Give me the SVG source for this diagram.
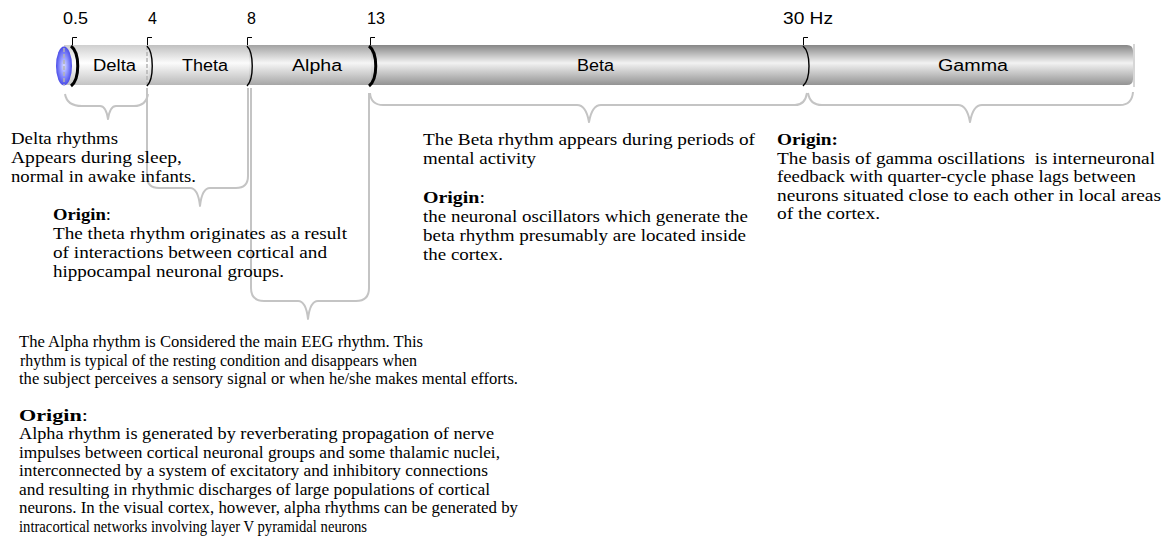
<svg xmlns="http://www.w3.org/2000/svg" width="1161" height="546" viewBox="0 0 1161 546">
  <defs>
    <linearGradient id="tubeLight" x1="0" y1="0" x2="0" y2="1">
      <stop offset="0" stop-color="#cfcfcf"/>
      <stop offset="0.45" stop-color="#ffffff"/>
      <stop offset="1" stop-color="#c4c4c4"/>
    </linearGradient>
    <linearGradient id="tubeSoft" x1="0" y1="0" x2="0" y2="1">
      <stop offset="0" stop-color="#c0c0c0"/>
      <stop offset="0.45" stop-color="#fbfbfb"/>
      <stop offset="1" stop-color="#b8b8b8"/>
    </linearGradient>
    <linearGradient id="tubeMid" x1="0" y1="0" x2="0" y2="1">
      <stop offset="0" stop-color="#a2a2a2"/>
      <stop offset="0.45" stop-color="#f6f6f6"/>
      <stop offset="1" stop-color="#a6a6a6"/>
    </linearGradient>
    <linearGradient id="tubeDark" x1="0" y1="0" x2="0" y2="1">
      <stop offset="0" stop-color="#868686"/>
      <stop offset="0.45" stop-color="#f2f2f2"/>
      <stop offset="1" stop-color="#939393"/>
    </linearGradient>
    <radialGradient id="capBlue" cx="0.5" cy="0.5" r="0.5">
      <stop offset="0" stop-color="#dadeff"/>
      <stop offset="0.5" stop-color="#9096ff"/>
      <stop offset="1" stop-color="#4a4ce8"/>
    </radialGradient>
    <style>
      .scale { font-family: "Liberation Sans", Arial, sans-serif; font-size: 16px; fill: #000; }
      .seg { font-family: "Liberation Sans", Arial, sans-serif; font-size: 16px; fill: #000; }
      .note { font-family: "Liberation Serif", "Times New Roman", serif; font-size: 17.5px; fill: #000; }
      .note-sm { font-family: "Liberation Serif", "Times New Roman", serif; font-size: 17px; fill: #000; }
      .b { font-weight: bold; }
      .rim { fill: none; stroke: #000; stroke-width: 1.4; }
      .rim-thick { fill: none; stroke: #000; stroke-width: 3; }
      .tick { fill: none; stroke: #000; stroke-width: 1; }
      .seam { stroke: #b4b4b4; stroke-width: 1.5; stroke-dasharray: 4 2; }
      .brace { fill: none; stroke: #c4c4c4; stroke-width: 2; stroke-linejoin: round; }
    </style>
  </defs>

  <rect width="1161" height="546" fill="#ffffff"/>

  <!-- frequency scale -->
  <g id="scale">
    <text class="scale" x="63" y="24" textLength="25" lengthAdjust="spacingAndGlyphs">0.5</text>
    <text class="scale" x="148" y="24">4</text>
    <text class="scale" x="247" y="24">8</text>
    <text class="scale" x="367" y="24" textLength="18" lengthAdjust="spacingAndGlyphs">13</text>
    <text class="scale" x="783" y="24" textLength="50" lengthAdjust="spacingAndGlyphs">30 Hz</text>
    <path class="tick" d="M72.5,46 V37.5 H77"/>
    <path class="tick" d="M147.5,46 V37.5 H152"/>
    <path class="tick" d="M247.5,46 V37.5 H252"/>
    <path class="tick" d="M370.5,46 V37.5 H375"/>
    <path class="tick" d="M803.5,46 V37.5 H808"/>
  </g>

  <!-- band segments of the tube -->
  <g id="band-gamma">
    <path d="M805,45 H1127 Q1133,45 1133,51 V79 Q1133,85 1127,85 H805 Z" fill="url(#tubeDark)"/>
    <line x1="1134" y1="44" x2="1134" y2="87" stroke="#c8c8c8" stroke-width="1.5"/>
    <text class="seg" x="938" y="71" textLength="70" lengthAdjust="spacingAndGlyphs">Gamma</text>
  </g>
  <g id="band-beta">
    <rect x="370" y="45" width="436" height="40" fill="url(#tubeDark)"/>
    <text class="seg" x="577" y="71" textLength="37" lengthAdjust="spacingAndGlyphs">Beta</text>
  </g>
  <g id="band-alpha">
    <rect x="248" y="45" width="123" height="40" fill="url(#tubeMid)"/>
    <text class="seg" x="292" y="71" textLength="50" lengthAdjust="spacingAndGlyphs">Alpha</text>
  </g>
  <g id="band-theta">
    <rect x="148" y="45" width="101" height="40" fill="url(#tubeSoft)"/>
    <text class="seg" x="182" y="71" textLength="46" lengthAdjust="spacingAndGlyphs">Theta</text>
  </g>
  <g id="band-delta">
    <rect x="64" y="45" width="85" height="40" fill="url(#tubeLight)"/>
    <line class="seam" x1="147" y1="46" x2="147" y2="86"/>
    <ellipse cx="64" cy="66" rx="8" ry="19.5" fill="url(#capBlue)"/>
    <line class="seam" x1="64" y1="48" x2="64" y2="85"/>
    <text class="seg" x="93" y="71" textLength="43" lengthAdjust="spacingAndGlyphs">Delta</text>
  </g>

  <!-- band boundaries -->
  <g id="boundaries">
    <path class="rim-thick" d="M71,46 C80,53 80,79 71,86"/>
    <path class="rim" d="M147,46 C154,53 154,79 147,86"/>
    <path class="rim" d="M247,46 C254,53 254,79 247,86"/>
    <path class="rim-thick" d="M369,46 C378,53 378,79 369,86"/>
    <path class="rim" d="M803,46 C811,53 811,79 803,86"/>
  </g>

  <!-- braces linking each band to its note -->
  <g id="connectors">
    <path class="brace" d="M65,94 Q67,106 82,106 H100 Q106,106 108,119 Q110,106 116,106 H134 Q146,106 148,94"/>
    <path class="brace" d="M147,88 V176 Q147,188 159,188 H190 Q198,188 200,206 Q202,188 210,188 H236 Q248,188 248,176 V88"/>
    <path class="brace" d="M251,88 V288 Q251,301 264,301 H298 Q306,301 308,319 Q310,301 318,301 H356 Q369,301 369,288 V93"/>
    <path class="brace" d="M370,93 Q371,105 383,105 H577 Q586,105 589,122 Q592,105 601,105 H795 Q805,105 807,93"/>
    <path class="brace" d="M808,93 Q810,105 822,105 H958 Q967,105 970,122 Q973,105 982,105 H1120 Q1132,105 1133,92"/>
  </g>

  <!-- notes -->
  <g id="note-delta">
    <text class="note" x="11" y="144" textLength="107" lengthAdjust="spacingAndGlyphs">Delta rhythms</text>
    <text class="note" x="11" y="163" textLength="171" lengthAdjust="spacingAndGlyphs">Appears during sleep,</text>
    <text class="note" x="11" y="182" textLength="185" lengthAdjust="spacingAndGlyphs">normal in awake infants.</text>
  </g>

  <g id="note-theta">
    <text class="note" x="53" y="220" textLength="58" lengthAdjust="spacingAndGlyphs"><tspan class="b">Origin</tspan>:</text>
    <text class="note" x="53" y="239" textLength="294" lengthAdjust="spacingAndGlyphs">The theta rhythm originates as a result</text>
    <text class="note" x="53" y="258" textLength="274" lengthAdjust="spacingAndGlyphs">of interactions between cortical and</text>
    <text class="note" x="53" y="277" textLength="231" lengthAdjust="spacingAndGlyphs">hippocampal neuronal groups.</text>
  </g>

  <g id="note-beta">
    <text class="note" x="423" y="145" textLength="332" lengthAdjust="spacingAndGlyphs">The Beta rhythm appears during periods of</text>
    <text class="note" x="423" y="163.5" textLength="113" lengthAdjust="spacingAndGlyphs">mental activity</text>
    <text class="note" x="423" y="203" textLength="62" lengthAdjust="spacingAndGlyphs"><tspan class="b">Origin</tspan>:</text>
    <text class="note" x="423" y="222" textLength="325" lengthAdjust="spacingAndGlyphs">the neuronal oscillators which generate the</text>
    <text class="note" x="423" y="241" textLength="323" lengthAdjust="spacingAndGlyphs">beta rhythm presumably are located inside</text>
    <text class="note" x="423" y="260" textLength="80" lengthAdjust="spacingAndGlyphs">the cortex.</text>
  </g>

  <g id="note-gamma">
    <text class="note b" x="777" y="145" textLength="61" lengthAdjust="spacingAndGlyphs">Origin:</text>
    <text class="note" x="777" y="163.5" textLength="378" lengthAdjust="spacingAndGlyphs" xml:space="preserve">The basis of gamma oscillations  is interneuronal</text>
    <text class="note" x="777" y="182" textLength="359" lengthAdjust="spacingAndGlyphs">feedback with quarter-cycle phase lags between</text>
    <text class="note" x="777" y="200.5" textLength="384" lengthAdjust="spacingAndGlyphs">neurons situated close to each other in local areas</text>
    <text class="note" x="777" y="219" textLength="103" lengthAdjust="spacingAndGlyphs">of the cortex.</text>
  </g>

  <g id="note-alpha">
    <text class="note-sm" x="19" y="347" textLength="404" lengthAdjust="spacingAndGlyphs">The Alpha rhythm is Considered the main EEG rhythm. This</text>
    <text class="note-sm" x="20" y="365.5" textLength="397" lengthAdjust="spacingAndGlyphs">rhythm is typical of the resting condition and disappears when</text>
    <text class="note-sm" x="19" y="384" textLength="499" lengthAdjust="spacingAndGlyphs">the subject perceives a sensory signal or when he/she makes mental efforts.</text>
    <text class="note-sm" x="19" y="421" textLength="69" lengthAdjust="spacingAndGlyphs"><tspan class="b">Origin</tspan>:</text>
    <text class="note-sm" x="19" y="439" textLength="475" lengthAdjust="spacingAndGlyphs">Alpha rhythm is generated by reverberating propagation of nerve</text>
    <text class="note-sm" x="19" y="457.5" textLength="481" lengthAdjust="spacingAndGlyphs">impulses between cortical neuronal groups and some thalamic nuclei,</text>
    <text class="note-sm" x="19" y="476" textLength="469" lengthAdjust="spacingAndGlyphs">interconnected by a system of excitatory and inhibitory connections</text>
    <text class="note-sm" x="19" y="494.5" textLength="471" lengthAdjust="spacingAndGlyphs">and resulting in rhythmic discharges of large populations of cortical</text>
    <text class="note-sm" x="19" y="513" textLength="499" lengthAdjust="spacingAndGlyphs">neurons. In the visual cortex, however, alpha rhythms can be generated by</text>
    <text class="note-sm" x="19" y="531.5" textLength="348" lengthAdjust="spacingAndGlyphs">intracortical networks involving layer V pyramidal neurons</text>
  </g>
</svg>
